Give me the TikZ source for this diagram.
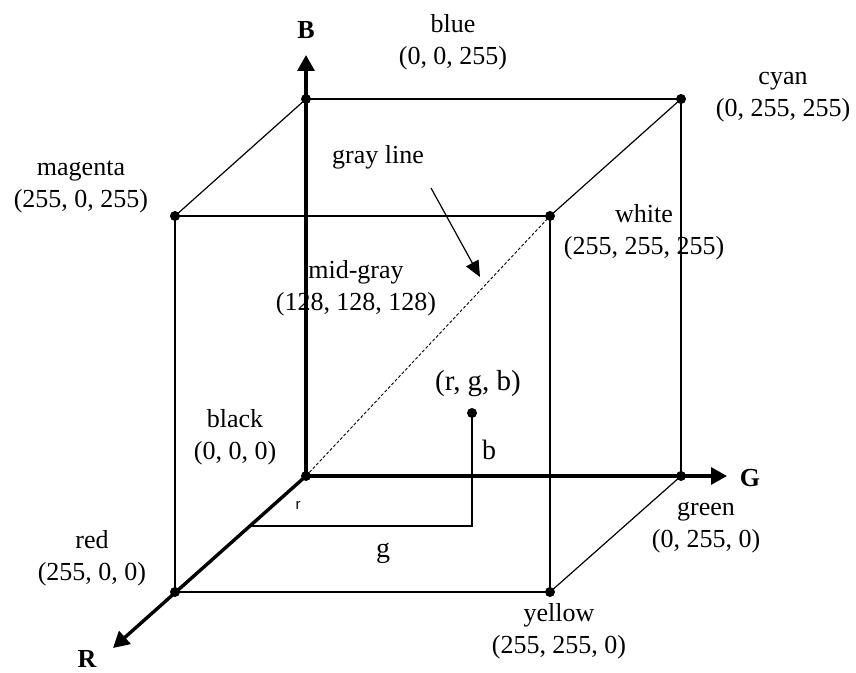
\documentclass[tikz,border=0pt]{standalone}
\usepackage{fontspec}
\setmainfont{Liberation Serif}
\newfontfamily\smallsans{Liberation Sans}
\usetikzlibrary{arrows.meta,positioning}

\begin{document}
\begin{tikzpicture}[x=0.5pt,y=-0.5pt,
  corner/.style={circle,fill=black,inner sep=0pt,minimum size=5pt},
  lbl/.style={align=center,font=\fontsize{13}{16}\selectfont,inner sep=0pt},
  biglbl/.style={inner sep=0pt,font=\fontsize{14}{17}\selectfont},
  axlbl/.style={inner sep=0pt,font=\fontsize{13}{16}\selectfont\bfseries},
  rgbaxis/.style={line width=1.7pt,-{Triangle[length=8pt,width=8.5pt]}},
  cubeedge/.style={line width=1.1pt},
  link/.style={line width=0.6pt},
  diag/.style={line width=0.45pt,dash pattern=on 1.5pt off 1pt},
  pointer/.style={line width=0.6pt,-{Triangle[length=8pt,width=7pt]}},
]
\useasboundingbox (0,0) rectangle (856,673);
% cube corners
\node[corner] (black) at (306,476) {};
\node[corner] (blue) at (306,99) {};
\node[corner] (cyan) at (681,99) {};
\node[corner] (green) at (681,476) {};
\node[corner] (magenta) at (175,216) {};
\node[corner] (white) at (550,216) {};
\node[corner] (red) at (175,592) {};
\node[corner] (yellow) at (550,592) {};
\node[corner] (rgb) at (472,413) {};
\coordinate (Btip) at (306,55);
\coordinate (Gtip) at (727,476);
\coordinate (Rtip) at (113,648);
\coordinate (rgbfoot) at (472,526);
\coordinate (rgbr) at (250,526);
\coordinate (graytail) at (431,188);
\coordinate (graytip) at (480,277);
% axes
\draw[rgbaxis] (black.center) -- (Btip);
\draw[rgbaxis] (black.center) -- (Gtip);
\draw[rgbaxis] (black.center) -- (Rtip);
% edges
\draw[cubeedge] (blue.center) -- (cyan.center) -- (green.center);
\draw[cubeedge] (magenta.center) -- (white.center) -- (yellow.center)
  -- (red.center) -- cycle;
\draw[link] (blue.center) -- (magenta.center);
\draw[link] (cyan.center) -- (white.center);
\draw[link] (green.center) -- (yellow.center);
\draw[diag] (black.center) -- (white.center);
\draw[link] (rgb.center) -- (rgbfoot) -- (rgbr);
% labels
\node[axlbl] (Blbl) at (306,30) {B};
\node[axlbl] (Glbl) at (750,478) {G};
\node[axlbl] (Rlbl) at (87,659) {R};
\node[lbl] (bluelbl) at (453,42) {blue\\(0, 0, 255)};
\node[lbl] (cyanlbl) at (783,97) {cyan\\(0, 255, 255)};
\node[lbl] (magentalbl) at (81,187) {magenta\\(255, 0, 255)};
\node[lbl] (whitelbl) at (644,232) {white\\(255, 255, 255)};
\node[lbl] (graylbl) at (378,157) {gray line};
\node[lbl] (midlbl) at (356,288) {mid-gray\\(128, 128, 128)};
\node[lbl] (blacklbl) at (235,437) {black\\(0, 0, 0)};
\node[lbl] (redlbl) at (92,558) {red\\(255, 0, 0)};
\node[lbl] (greenlbl) at (706,528) {green\\(0, 255, 0)};
\node[lbl] (yellowlbl) at (559,631) {yellow\\(255, 255, 0)};
\node[biglbl,font=\fontsize{14.5}{17}\selectfont] (rgblbl) at (478,384) {(r, g, b)};
\node[biglbl] (blbl) at (489,450) {b};
\node[biglbl] (glbl) at (383,553) {g};
\node[inner sep=0pt,font=\smallsans\fontsize{7.5}{9}\selectfont] (rlbl) at (298,505) {r};
\draw[pointer] (graytail) -- (graytip);
\end{tikzpicture}
\end{document}
